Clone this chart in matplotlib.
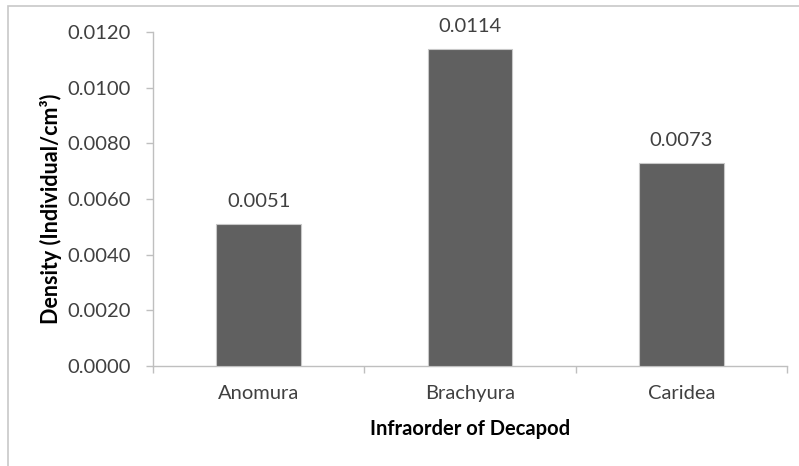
import matplotlib
matplotlib.use("Agg")
import matplotlib.pyplot as plt
from matplotlib.patches import Rectangle
from matplotlib.ticker import FixedLocator, NullFormatter

categories = ["Anomura", "Brachyura", "Caridea"]
values = [0.0051, 0.0114, 0.0073]
value_labels = ["0.0051", "0.0114", "0.0073"]
yticks = [0.0, 0.002, 0.004, 0.006, 0.008, 0.010, 0.012]

plt.rcParams['font.family'] = ['Lato', 'DejaVu Sans']

W, H = 799, 466
fig = plt.figure(figsize=(W / 100, H / 100), dpi=100)

# outer chart border
fig.patches.append(Rectangle((8 / W, -0.1), 1.2, (H - 6) / H + 0.1, transform=fig.transFigure,
                             fill=False, edgecolor='#c8c8c8', linewidth=1.2))

ax = fig.add_axes([153 / W, 1 - 366 / H, (787 - 153) / W, (366 - 32) / H])
x = list(range(len(categories)))
ax.bar(x, values, width=0.4, color='#606060', edgecolor='#c8c8c8', linewidth=0.8, zorder=3)
for xi, v, lab in zip(x, values, value_labels):
    ax.annotate(lab, (xi, v), xytext=(0, 12), textcoords='offset points',
                ha='center', va='baseline', fontsize=14.5, color='#404040')

ax.set_xlim(-0.5, 2.5)
ax.set_ylim(0, 0.012)
ax.set_yticks(yticks)
ax.set_yticklabels([f"{t:.4f}" for t in yticks], fontsize=14.5, color='#404040')
ax.set_xticks(x)
ax.set_xticklabels(categories, fontsize=14.5, color='#404040')
ax.tick_params(axis='x', which='major', length=0, pad=14)
ax.xaxis.set_minor_locator(FixedLocator([-0.5, 0.5, 1.5, 2.5]))
ax.xaxis.set_minor_formatter(NullFormatter())
ax.tick_params(axis='x', which='minor', length=5, color='#bfbfbf', width=1)
ax.tick_params(axis='y', length=5, color='#bfbfbf', width=1, pad=11)

for s in ['top', 'right']:
    ax.spines[s].set_visible(False)
for s in ['left', 'bottom']:
    ax.spines[s].set_color('#bfbfbf')
    ax.spines[s].set_linewidth(1)

ax.set_xlabel("Infraorder of Decapod", fontsize=14.5, fontweight='bold', labelpad=12, color='black')
ax.set_ylabel("Density (Individual/cm³)", fontsize=15.5, fontweight='bold', color='black')
ax.yaxis.set_label_coords((62 - 153) / 634, (366 - 209) / 334)

fig.savefig("out.png", dpi=100)
